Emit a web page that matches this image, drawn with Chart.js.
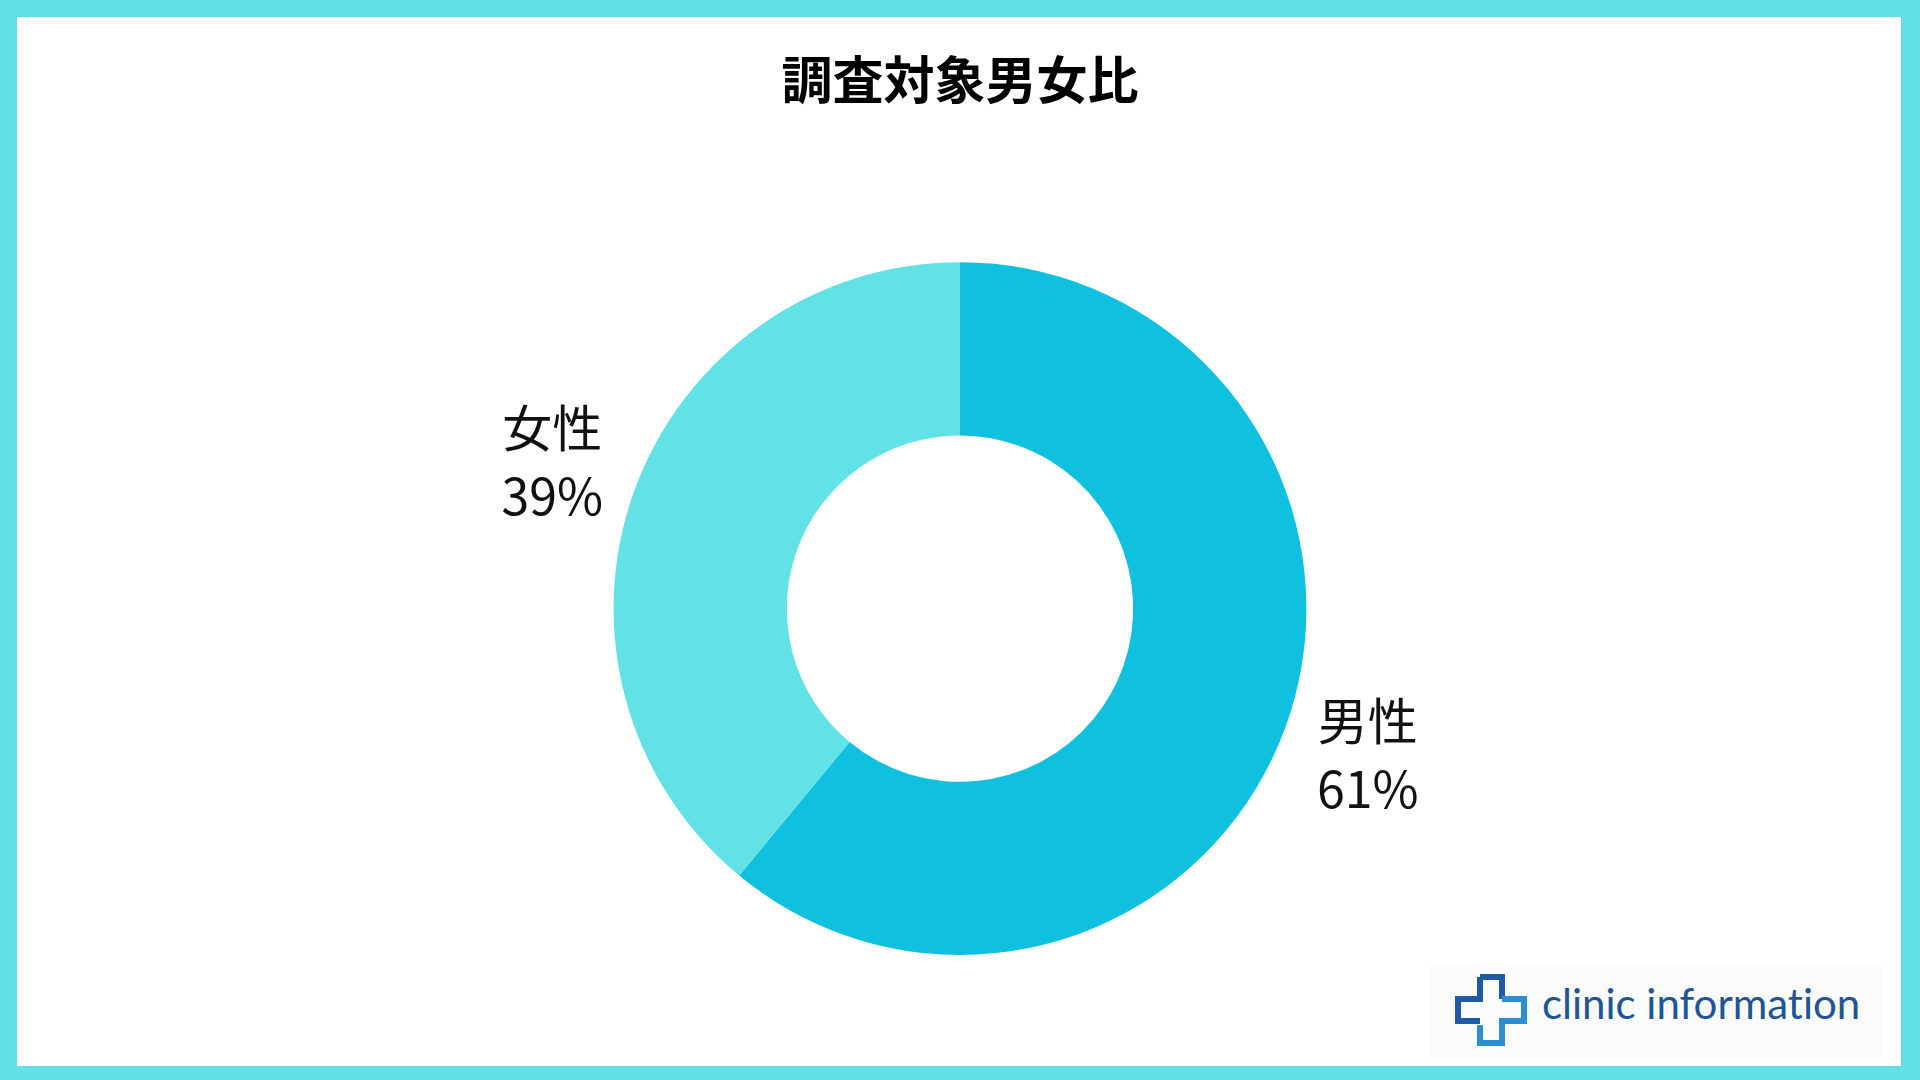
<!DOCTYPE html>
<html lang="ja">
<head>
<meta charset="utf-8">
<script src="https://cdn.jsdelivr.net/npm/chart.js@4"></script>
<style>
  html, body { margin: 0; padding: 0; }
  body { width: 1920px; height: 1080px; background: #62e0e6; position: relative; overflow: hidden; }
  .sheet { position: absolute; left: 17px; top: 17px; width: 1884px; height: 1049px; background: #fff; }
  #chartBox { position: absolute; left: 0; top: 0; width: 1920px; height: 1080px; }
  .logo { position: absolute; left: 1430px; top: 965px; width: 452px; height: 93px; background: #fbfbfb;
          display: flex; align-items: center; white-space: nowrap; }
  .logo svg { margin-left: 24px; flex: none; margin-top: -4px; }
  .logo span { font-family: "Lato", "Open Sans", sans-serif; font-size: 42px; color: #1d5596; margin-left: 14px;
               position: relative; top: -9px; font-variant-ligatures: none; }
</style>
</head>
<body>
<div class="sheet"></div>
<div id="chartBox"><canvas id="pieChart"></canvas></div>
<div class="logo">
  <svg width="74" height="74" viewBox="0 0 74 74">
    <path d="M26 4 H48 V26" fill="none" stroke="#1f5aa6" stroke-width="6"/>
    <path d="M26 4 V26 H4 V48 H26" fill="none" stroke="#1f5aa6" stroke-width="6"/>
    <path d="M48 26 H70 V48 H48 V70 H26 V52" fill="none" stroke="#2d8fd2" stroke-width="6"/>
  </svg>
  <span>clinic information</span>
</div>
<script>
// 調査対象男女比
const labels = ['男性', '女性']
const values = [61, 39]
const colors = ['#0fc0df', '#62e1e6']

// ラベル（名前 + %）をスライスの外側に描く
const outsideLabels = {
    id: 'outsideLabels',
    afterDatasetsDraw(chart) {
        const ctx = chart.ctx
        const meta = chart.getDatasetMeta(0)
        meta.data.forEach((arc, i) => {
            const mid = (arc.startAngle + arc.endAngle) / 2
            const r = arc.outerRadius + 87
            const x = arc.x + Math.cos(mid) * r
            const y = arc.y + Math.sin(mid) * r
            ctx.save()
            ctx.fillStyle = '#111'
            ctx.textAlign = 'center'
            ctx.textBaseline = 'middle'
            ctx.font = '50px "Noto Sans CJK JP"'
            ctx.fillText(labels[i], x, y - 34)
            ctx.fillText(values[i] + '%', x, y + 34)
            ctx.restore()
        })
    }
}

const pieCtx = document.getElementById('pieChart').getContext('2d')
new Chart(pieCtx, {
    type: 'doughnut',
    data: {
        labels: labels,
        datasets: [{
            data: values,
            backgroundColor: colors,
            borderWidth: 0
        }]
    },
    options: {
        responsive: true,
        maintainAspectRatio: false,
        animation: false,
        cutout: '50%',
        layout: {
            padding: { top: 0, bottom: 125, left: 0, right: 0 }
        },
        plugins: {
            title: {
                display: true,
                text: '調査対象男女比',
                color: '#000',
                font: { family: '"Noto Sans CJK JP"', size: 51, weight: 'bold' },
                padding: { top: 49, bottom: 152 }
            },
            legend: { display: false },
            tooltip: { enabled: false }
        }
    },
    plugins: [outsideLabels]
})
</script>
</body>
</html>
